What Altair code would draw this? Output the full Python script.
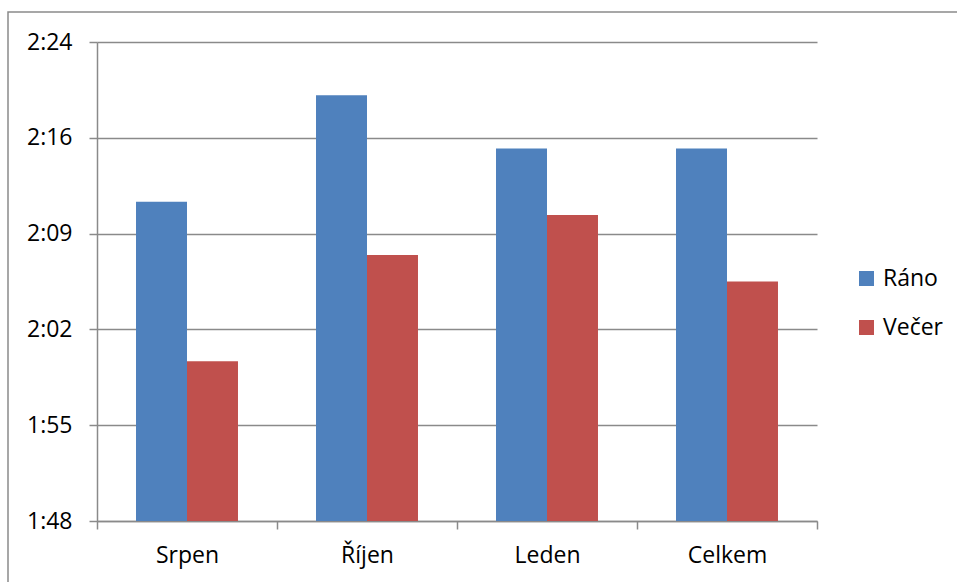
import altair as alt
import pandas as pd

# Průměrné časy (h:mm) podle měsíce a směny
mesice = ["Srpen", "Říjen", "Leden", "Celkem"]
smeny = ["Ráno", "Večer"]
rano = ["2:12", "2:20", "2:16", "2:16"]
vecer = ["2:00", "2:08", "2:11", "2:06"]

# Osa Y: 1:48 až 2:24, krok 0,005 dne (7,2 min)
osa_min = [108, 115.2, 122.4, 129.6, 136.8, 144]


def na_minuty(t):
    h, m = t.split(":")
    return int(h) * 60 + int(m)


rows = []
for i, m in enumerate(mesice):
    rows.append({"Měsíc": m, "Směna": "Ráno", "Čas": na_minuty(rano[i]), "Popis": rano[i], "Základ": osa_min[0]})
    rows.append({"Měsíc": m, "Směna": "Večer", "Čas": na_minuty(vecer[i]), "Popis": vecer[i], "Základ": osa_min[0]})
df = pd.DataFrame(rows)

FONT = "Open Sans"
FS = 23
GRID = "#8a8a8a"

bars = alt.Chart(df).mark_bar().encode(
    x=alt.X(
        "Měsíc:N",
        sort=mesice,
        title=None,
        scale=alt.Scale(paddingInner=0, paddingOuter=0),
        axis=alt.Axis(
            labelAngle=0,
            labelFont=FONT,
            labelFontSize=FS,
            labelColor="#000000",
            labelPadding=15,
            labelOverlap=False,
            tickBand="extent",
            tickSize=8,
            tickColor=GRID,
            tickWidth=1.5,
            domainColor=GRID,
            domainWidth=1.5,
            grid=False,
        ),
    ),
    xOffset=alt.XOffset("Směna:N", sort=smeny, scale=alt.Scale(paddingInner=0, paddingOuter=0.765)),
    y=alt.Y(
        "Čas:Q",
        title=None,
        scale=alt.Scale(domain=[osa_min[0], osa_min[-1]], nice=False, zero=False),
        axis=alt.Axis(
            values=osa_min,
            labelExpr="floor(datum.value / 60) + ':' + (floor(datum.value % 60) < 10 ? '0' : '') + floor(datum.value % 60)",
            labelFont=FONT,
            labelFontSize=FS,
            labelColor="#000000",
            labelPadding=17,
            tickSize=8,
            tickColor=GRID,
            tickWidth=1.5,
            domainColor=GRID,
            domainWidth=1.5,
            grid=True,
            gridColor=GRID,
            gridWidth=1.5,
        ),
    ),
    y2="Základ:Q",
    color=alt.Color(
        "Směna:N",
        sort=smeny,
        scale=alt.Scale(domain=smeny, range=["#4F81BD", "#C0504D"]),
        legend=alt.Legend(
            title=None,
            orient="none",
            legendX=758,
            legendY=225,
            padding=0,
            symbolType="square",
            symbolSize=225,
            symbolStrokeWidth=0,
            symbolOpacity=1,
            labelFont=FONT,
            labelFontSize=FS,
            labelColor="#000000",
            labelOffset=5,
            rowPadding=25,
        ),
    ),
    tooltip=["Měsíc", "Směna", "Popis"],
)

# Rámeček kolem celého grafu
ramecek = alt.Chart(pd.DataFrame({"r": [0]})).mark_rect(
    fill=None, stroke="#8a8a8a", strokeWidth=1.5, clip=False
).encode(
    x=alt.value(-89),
    x2=alt.value(900),
    y=alt.value(-30),
    y2=alt.value(600),
)

chart = (
    alt.layer(ramecek, bars)
    .properties(
        width=720,
        height=479,
        autosize=alt.AutoSizeParams(type="none"),
        padding={"left": 97, "top": 42, "right": 140, "bottom": 61},
        background="#ffffff",
    )
    .configure_view(stroke=None)
)

chart.save("out.html", embed_options={"renderer": "svg", "actions": False})
